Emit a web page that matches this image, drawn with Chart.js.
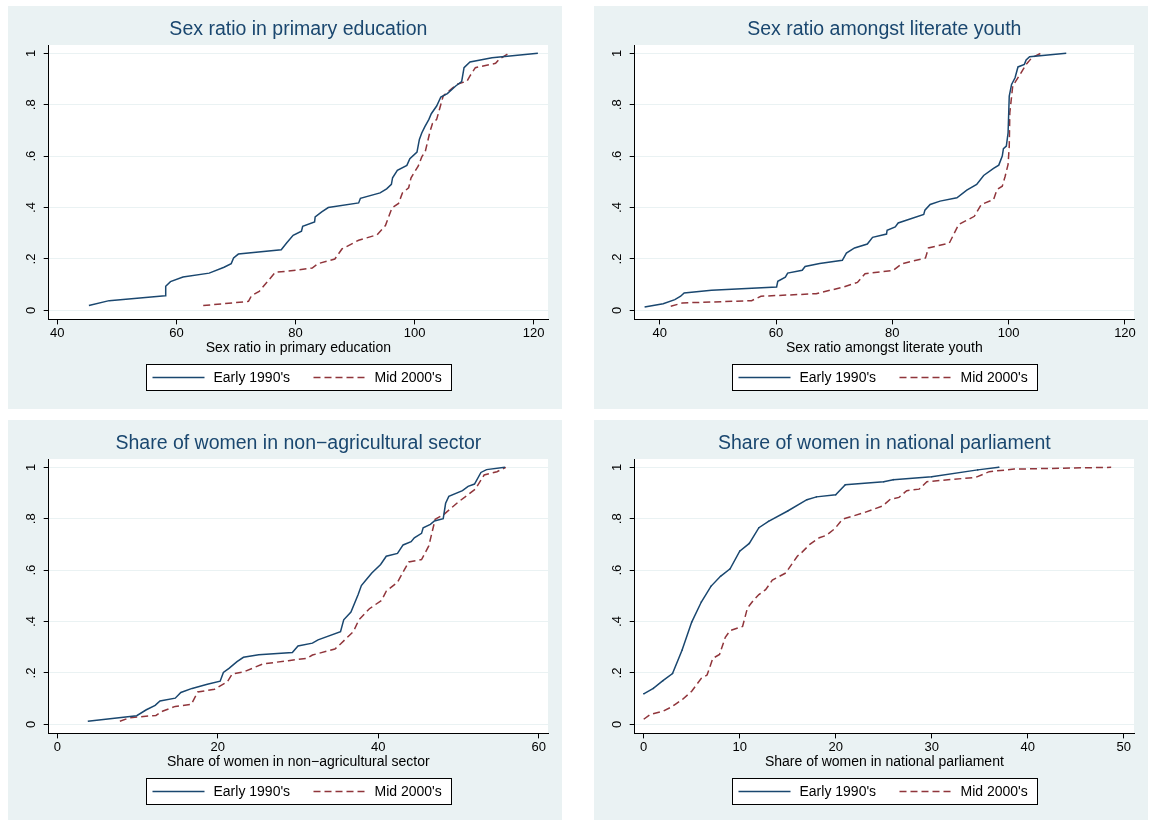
<!DOCTYPE html>
<html>
<head>
<meta charset="utf-8">
<script src="https://cdn.jsdelivr.net/npm/chart.js"></script>
<style>
  body { margin: 0; background: #fff; width: 1150px; height: 820px; overflow: hidden; position: relative; }
  canvas { position: absolute; background: #EAF2F3; }
</style>
</head>
<body>
<canvas id="c1" width="554" height="403" style="left:8px;top:6px"></canvas>
<canvas id="c2" width="554" height="403" style="left:594px;top:6px"></canvas>
<canvas id="c3" width="554" height="403" style="left:8px;top:420px"></canvas>
<canvas id="c4" width="554" height="403" style="left:594px;top:420px"></canvas>
<script>
// series names
const seriesNames = ["Early 1990's", "Mid 2000's"];

// y axis (cumulative share), same on all panels
const yTicks = [0, 0.2, 0.4, 0.6, 0.8, 1];
const yTickLabels = ['0', '.2', '.4', '.6', '.8', '1'];

// panel 1: sex ratio in primary education
const p1Title = 'Sex ratio in primary education';
const p1Ticks = [40, 60, 80, 100, 120];
const p1Range = [38.55, 122.4];
const p1EarlyX = [45.3, 48.7, 58.1, 58.2, 59.0, 61.1, 65.5, 68.0, 69.2, 69.6, 70.4, 77.6, 78.5, 79.6, 81.0, 81.2, 83.2, 83.3, 84.4, 85.5, 90.6, 90.9, 94.2, 95.3, 96.1, 96.3, 97.1, 98.7, 99.2, 100.4, 100.8, 101.2, 101.7, 102.4, 102.8, 103.7, 104.4, 105.5, 106.9, 107.9, 108.3, 109.3, 113.0, 120.7];
const p1EarlyY = [.019, .038, .057, .094, .112, .13, .145, .168, .182, .204, .219, .236, .262, .292, .308, .327, .344, .364, .383, .4, .418, .436, .457, .473, .49, .516, .545, .564, .59, .616, .665, .69, .714, .743, .765, .795, .83, .843, .873, .89, .944, .966, .983, 1];
const p1MidX = [64.5, 72.1, 72.6, 73.9, 76.6, 80.1, 82.8, 83.8, 86.6, 87.8, 90.6, 93.7, 95.1, 96.2, 97.3, 97.95, 99.0, 99.4, 100.6, 101.2, 101.8, 102.6, 103.0, 103.7, 104.8, 106.2, 107.1, 108.8, 109.3, 110.2, 113.6, 114.2, 115.8];
const p1MidY = [.019, .035, .057, .074, .148, .156, .165, .182, .2, .239, .273, .294, .33, .399, .416, .457, .477, .516, .561, .597, .619, .697, .727, .743, .834, .862, .879, .892, .912, .944, .961, .977, 1];

// panel 2: sex ratio amongst literate youth
const p2Title = 'Sex ratio amongst literate youth';
const p2Ticks = [40, 60, 80, 100, 120];
const p2Range = [35.7, 121.55];
const p2EarlyX = [37.4, 40.6, 42.6, 43.6, 44.2, 48.9, 60.1, 60.3, 61.6, 62.0, 64.5, 65.0, 67.5, 71.4, 72.1, 73.5, 75.7, 76.6, 79.0, 79.1, 80.5, 81.0, 85.4, 85.6, 86.5, 88.2, 91.1, 92.8, 94.5, 95.7, 97.4, 98.3, 98.9, 99.1, 99.6, 99.9, 100.1, 100.5, 101.1, 101.6, 102.7, 103.0, 103.6, 109.9];
const p2EarlyY = [.013, .026, .042, .055, .068, .078, .091, .113, .129, .145, .156, .171, .182, .195, .223, .243, .258, .284, .297, .312, .325, .34, .373, .39, .412, .425, .438, .468, .49, .525, .552, .565, .6, .629, .639, .691, .834, .879, .905, .947, .957, .974, .987, 1];
const p2MidX = [41.9, 43.9, 55.8, 57.4, 66.9, 71.6, 74.0, 75.3, 80.1, 81.6, 85.7, 86.2, 89.8, 91.4, 94.1, 95.3, 97.4, 98.0, 98.9, 99.4, 99.9, 100.1, 100.2, 100.7, 101.8, 103.0, 104.0, 105.5];
const p2MidY = [.016, .029, .038, .055, .065, .091, .109, .143, .155, .181, .204, .243, .262, .334, .366, .412, .431, .47, .483, .522, .568, .639, .769, .873, .912, .957, .983, 1];

// panel 3: share of women in non-agricultural sector
const p3Title = 'Share of women in non\u2212agricultural sector';
const p3Ticks = [0, 20, 40, 60];
const p3Range = [-1.07, 61.16];
const p3EarlyX = [3.8, 9.9, 11.1, 12.2, 12.8, 14.7, 15.4, 16.8, 18.7, 20.3, 20.7, 21.4, 22.4, 23.2, 25.1, 29.3, 30.0, 31.8, 32.5, 35.3, 35.7, 36.6, 37.5, 37.9, 38.5, 39.2, 40.3, 41.0, 42.4, 43.1, 44.1, 44.5, 45.4, 45.6, 46.5, 47.0, 48.1, 48.4, 48.8, 50.5, 51.2, 52.0, 52.8, 53.5, 55.8];
const p3EarlyY = [.012, .034, .057, .074, .091, .102, .124, .14, .156, .168, .202, .218, .244, .261, .271, .28, .305, .316, .329, .361, .407, .437, .505, .54, .563, .589, .622, .654, .665, .698, .711, .726, .743, .765, .778, .791, .8, .86, .887, .909, .926, .935, .98, .991, 1];
const p3MidX = [7.8, 9.0, 12.3, 13.1, 14.7, 16.7, 17.5, 19.6, 21.2, 21.8, 23.3, 25.6, 28.8, 31.1, 31.8, 34.6, 35.3, 36.9, 37.6, 38.9, 40.4, 41.0, 42.4, 43.8, 45.4, 46.3, 47.1, 48.2, 49.9, 52.1, 53.2, 54.8, 55.9];
const p3MidY = [.012, .026, .035, .051, .07, .078, .126, .137, .166, .196, .205, .235, .248, .257, .27, .293, .313, .361, .407, .45, .482, .518, .553, .632, .641, .694, .798, .817, .863, .915, .97, .983, 1];

// panel 4: share of women in national parliament
const p4Title = 'Share of women in national parliament';
const p4Ticks = [0, 10, 20, 30, 40, 50];
const p4Range = [-0.94, 51.08];
const p4EarlyX = [0, 1, 2, 3, 4, 5, 6, 7, 8, 9, 10, 11, 12, 13, 15, 17, 18, 20, 21, 25, 26, 30, 34.8, 37];
const p4EarlyY = [.119, .14, .17, .198, .289, .398, .476, .537, .576, .605, .674, .704, .765, .79, .83, .874, .885, .893, .932, .944, .952, .963, .99, 1];
const p4MidX = [0, 0.7, 2, 2.9, 3.4, 4, 5, 6, 6.6, 7.2, 7.9, 8.5, 9, 10.3, 10.8, 11.4, 12, 12.7, 13.4, 14.8, 16, 16.5, 17.3, 18.3, 19, 19.9, 20.7, 23, 24.9, 25.7, 26.6, 27.4, 28.7, 29.5, 34.6, 36, 38.6, 48.7];
const p4MidY = [.02, .039, .051, .068, .081, .096, .129, .179, .192, .257, .272, .339, .365, .381, .452, .481, .505, .524, .561, .589, .654, .67, .7, .726, .735, .761, .798, .824, .85, .876, .883, .909, .915, .944, .961, .983, .993, 1];

const NAVY = '#1A476F';
const MAROON = '#90353B';
const BG = '#EAF2F3';
const FONT = '"Liberation Sans", Arial, Helvetica, sans-serif';
Chart.defaults.font.family = FONT;

function toPoints(xs, ys) {
    return xs.map((x, i) => ({ x: x, y: ys[i] }));
}

// white plot region
const plotBg = {
    id: 'plotBg',
    beforeDraw(chart) {
        const a = chart.chartArea, ctx = chart.ctx;
        ctx.save();
        ctx.fillStyle = '#fff';
        ctx.fillRect(a.left, a.top, a.right - a.left, a.bottom - a.top);
        ctx.restore();
    }
};

// y tick labels are rotated like in Stata
const rotatedYLabels = {
    id: 'rotatedYLabels',
    afterDraw(chart) {
        const s = chart.scales.y, ctx = chart.ctx;
        ctx.save();
        ctx.fillStyle = '#000';
        ctx.font = '13px ' + FONT;
        ctx.textAlign = 'center';
        ctx.textBaseline = 'middle';
        yTicks.forEach((v, i) => {
            ctx.save();
            ctx.translate(chart.chartArea.left - 17.5, s.getPixelForValue(v));
            ctx.rotate(-Math.PI / 2);
            ctx.fillText(yTickLabels[i], 0, 0);
            ctx.restore();
        });
        ctx.restore();
    }
};

// boxed legend under the axis title
const boxLegend = {
    id: 'boxLegend',
    afterDraw(chart) {
        const a = chart.chartArea, ctx = chart.ctx;
        const bw = 305, bh = 26;
        const bx = Math.round((a.left + a.right) / 2 - bw / 2) + 0.5;
        const by = Math.round(a.bottom + 45) + 0.5;
        const cy = by + bh / 2;
        ctx.save();
        ctx.fillStyle = '#fff';
        ctx.fillRect(bx, by, bw, bh);
        ctx.strokeStyle = '#000';
        ctx.lineWidth = 1;
        ctx.strokeRect(bx, by, bw, bh);
        ctx.font = '14px ' + FONT;
        ctx.textBaseline = 'middle';
        ctx.textAlign = 'left';
        chart.data.datasets.forEach((ds, i) => {
            const off = i * 161;
            ctx.strokeStyle = ds.borderColor;
            ctx.lineWidth = ds.borderWidth;
            ctx.setLineDash(ds.borderDash || []);
            ctx.beginPath();
            ctx.moveTo(bx + 6 + off, cy);
            ctx.lineTo(bx + 58 + off, cy);
            ctx.stroke();
            ctx.setLineDash([]);
            ctx.fillStyle = '#000';
            ctx.fillText(ds.label, bx + 67 + off, cy + 1);
        });
        ctx.restore();
    }
};

function makeChart(id, title, xTicks, xRange, earlyX, earlyY, midX, midY, earlyDots) {
    new Chart(document.getElementById(id), {
        type: 'line',
        data: {
            datasets: [{
                label: seriesNames[0],
                data: toPoints(earlyX, earlyY),
                borderColor: NAVY,
                backgroundColor: NAVY,
                borderWidth: 1.5,
                pointRadius: earlyDots ? 0.8 : 0,
                pointBorderWidth: 0,
                tension: 0,
                fill: false
            }, {
                label: seriesNames[1],
                data: toPoints(midX, midY),
                borderColor: MAROON,
                borderWidth: 1.5,
                borderDash: [7, 4],
                pointRadius: 0,
                tension: 0,
                fill: false
            }]
        },
        options: {
            responsive: false,
            animation: false,
            layout: { padding: { left: 0, right: 14, top: 0, bottom: 52 } },
            plugins: {
                legend: { display: false },
                tooltip: { enabled: false },
                title: {
                    display: true,
                    text: title,
                    fullSize: false,
                    color: NAVY,
                    font: { size: 19.5, weight: 'normal' },
                    padding: { top: 12, bottom: 3.6 }
                }
            },
            scales: {
                x: {
                    type: 'linear',
                    min: xRange[0],
                    max: xRange[1],
                    afterBuildTicks: s => { s.ticks = xTicks.map(v => ({ value: v })); },
                    afterFit: s => { s.height = 37.6; },
                    grid: { drawOnChartArea: false, tickLength: 5, tickColor: '#000' },
                    border: { color: '#000', width: 1 },
                    ticks: { color: '#000', font: { size: 13 }, padding: 1.5, maxRotation: 0, autoSkip: false },
                    title: { display: true, text: title, color: '#000', font: { size: 14 }, padding: { top: 0, bottom: 0 } }
                },
                y: {
                    type: 'linear',
                    min: -0.035,
                    max: 1.0323,
                    afterBuildTicks: s => { s.ticks = yTicks.map(v => ({ value: v })); },
                    afterFit: s => { s.width = 40.7; },
                    grid: { color: BG, lineWidth: 1, tickLength: 5, tickColor: '#000' },
                    border: { color: '#000', width: 1 },
                    ticks: { display: false }
                }
            }
        },
        plugins: [plotBg, rotatedYLabels, boxLegend]
    });
}

makeChart('c1', p1Title, p1Ticks, p1Range, p1EarlyX, p1EarlyY, p1MidX, p1MidY, false);
makeChart('c2', p2Title, p2Ticks, p2Range, p2EarlyX, p2EarlyY, p2MidX, p2MidY, false);
makeChart('c3', p3Title, p3Ticks, p3Range, p3EarlyX, p3EarlyY, p3MidX, p3MidY, false);
makeChart('c4', p4Title, p4Ticks, p4Range, p4EarlyX, p4EarlyY, p4MidX, p4MidY, true);
</script>
</body>
</html>
